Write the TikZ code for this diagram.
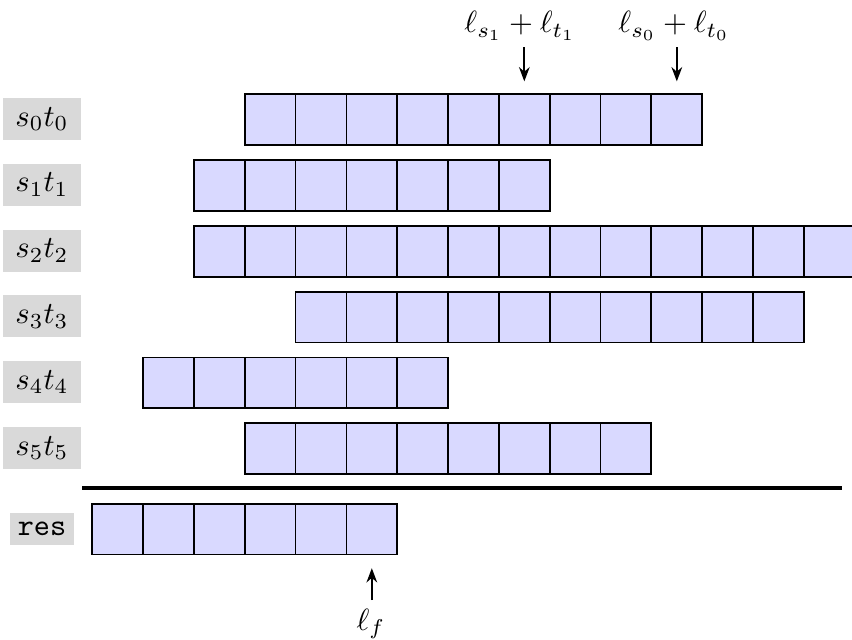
\documentclass[tikz,border=0pt]{standalone}
\usetikzlibrary{arrows.meta}
\begin{document}
\begin{tikzpicture}[x=0.009837cm,y=-0.009837cm,
  every node/.style={scale=0.86},
  cell/.style={draw=black,fill=blue!15,minimum size=0.5814cm,inner sep=0pt,anchor=north west,line width=0.5pt},
  lbl/.style={fill=gray!30,inner xsep=4pt,inner ysep=3pt},
  arr/.style={-{Stealth[length=4pt,width=3pt]},line width=0.5pt}]
\useasboundingbox (0,0) rectangle (852,639);
\clip (0,0) rectangle (852,639);
% rows s_i t_i
\foreach \i/\c/\n in {0/3/9,1/2/7,2/2/13,3/4/10,4/1/6,5/3/8} {
  \node[lbl] (lab\i) at (42,{119+65.8*\i}) {$s_\i t_\i$};
  \foreach \k in {1,...,\n} {
    \pgfmathtruncatemacro\col{\c+\k-1}
    \node[cell] (r\i-\col) at ({91.5+50.83*\col},{93.5+65.8*\i}) {};
  }
}
% separator
\coordinate (sepl) at (82,488);
\coordinate (sepr) at (842,488);
\draw[line width=1pt] (sepl) -- (sepr);
% result row
\node[lbl,inner xsep=2.4pt,font=\ttfamily] (labres) at (42,529) {res};
\foreach \col in {0,...,5} {
  \node[cell] (r6-\col) at ({91.5+50.83*\col},503) {};
}
% top labels and arrows
\node (top1) at (520,26) {$\ell_{s_1}+\ell_{t_1}$};
\node (top0) at (674,26) {$\ell_{s_0}+\ell_{t_0}$};
\coordinate (a1) at (r0-8.north |- 0,47);
\coordinate (a0) at (r0-11.north |- 0,47);
\draw[arr,shorten >=3.4pt] (a1) -- (r0-8.north);
\draw[arr,shorten >=3.4pt] (a0) -- (r0-11.north);
% bottom label and arrow
\node (lf) at (371,624) {$\ell_f$};
\coordinate (af) at (r6-5.south |- 0,600);
\draw[arr,shorten >=3.6pt] (af) -- (r6-5.south);
\end{tikzpicture}
\end{document}
